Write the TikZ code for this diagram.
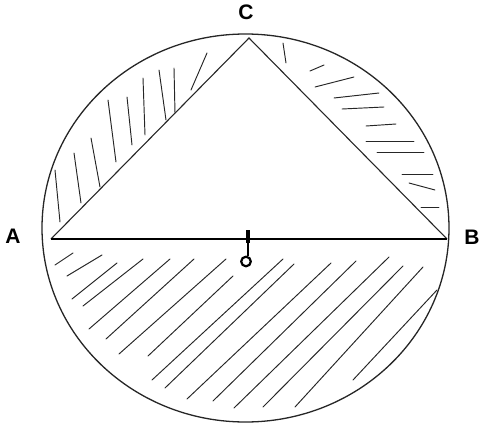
\documentclass[tikz,border=0pt]{standalone}
\usepackage{fontspec}
\setmainfont{Liberation Sans}
\begin{document}
\begin{tikzpicture}[x=1pt,y=-1pt,
  hatch/.style={line width=0.95pt, black!85, line cap=round},
  edge/.style={line width=1.1pt, black!85},
  lbl/.style={font=\fontsize{21}{21}\selectfont\bfseries, inner sep=0pt}]
\useasboundingbox (0,0) rectangle (482,428);
% vertices
\coordinate (A) at (51,239);
\coordinate (B) at (447,239);
\coordinate (C) at (249,38);
\coordinate (Otop) at (248,230);
\coordinate (Omid) at (248,243);
\coordinate (Obot) at (248,256);
\coordinate (O) at (246,261.5);
% circle
\draw[line width=1.3pt, black!85] (245.5,228) ellipse [x radius=203.5pt, y radius=194pt];
% triangle
\draw[edge] (A) -- (C) -- (B);
\draw[line width=1.8pt] (A) -- (B);
% centre mark
\draw[line width=3.5pt] (Otop) -- (Omid);
\draw[line width=2pt] (Omid) -- (Obot);
\draw[line width=2.2pt] (O) circle [radius=4.8pt];
% labels
\node[lbl] (lA) at (13,236) {A};
\node[lbl] (lB) at (472,237) {B};
\node[lbl] (lC) at (246,12) {C};
% hatching: lower half
\foreach \a/\b/\c/\d in {55/265/73/253, 67/276/102/255, 72/299/117/263, 83/306/143/259,
  89/329/170/259, 106/339/194/259, 119/354/226/259, 148/356/233/276,
  152/380/283/259, 165/388/294/264, 187/399/331/263, 213/401/356/261,
  234/408/389/257, 263/407/403/266, 295/407/423/267, 353/380/437/290}
  \draw[hatch] (\a,\b) -- (\c,\d);
% hatching: left segment
\foreach \a/\b/\c/\d in {55/170/60/222, 74/153/81/203, 91/138/100/187, 108/100/116/162,
  127/97/132/145, 143/78/145/135, 159/70/166/120, 174/68/175/113, 207/53/191/90}
  \draw[hatch] (\a,\b) -- (\c,\d);
% hatching: right segment
\foreach \a/\b/\c/\d in {283/43/286/63, 310/71/324/65, 315/87/354/77, 334/98/379/93,
  342/109/384/107, 366/126/396/124, 366/141/414/141, 377/152/424/152,
  402/174/433/174, 409/183/435/190, 421/207/439/207}
  \draw[hatch] (\a,\b) -- (\c,\d);
\end{tikzpicture}
\end{document}
